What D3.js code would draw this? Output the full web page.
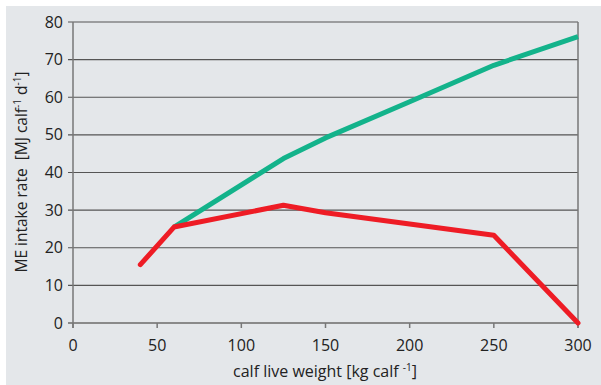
<!DOCTYPE html>
<html>
<head>
<meta charset="utf-8">
<script src="https://cdn.jsdelivr.net/npm/d3@7"></script>
<style>
  body { margin: 0; background: #fff; }
  svg { display: block; font-family: "Open Sans", "Noto Sans", sans-serif; }
</style>
</head>
<body>
<div id="chart"></div>
<script>
// calf live weight (kg)
const greenWeight = [60, 125, 150, 200, 250, 300];
const greenME = [25.5, 43.7, 49.2, 58.8, 68.5, 76.1];
const redWeight = [40, 60, 125, 150, 250, 300];
const redME = [15.5, 25.5, 31.3, 29.3, 23.3, 0];
const xTicks = [0, 50, 100, 150, 200, 250, 300];
const yTicks = [0, 10, 20, 30, 40, 50, 60, 70, 80];

const width = 601, height = 385;
const margin = {left: 73, right: 23, top: 22, bottom: 62};

const svg = d3.select('#chart').append('svg')
    .attr('width', width)
    .attr('height', height);

svg.append('rect')
    .attr('x', 6).attr('y', 6)
    .attr('width', width - 6).attr('height', height - 6)
    .attr('fill', '#e4e7ea');

const x = d3.scaleLinear().domain([0, 300]).range([margin.left, width - margin.right]);
const y = d3.scaleLinear().domain([0, 80]).range([height - margin.bottom, margin.top]);

// horizontal grid
svg.append('g')
    .selectAll('line')
    .data(yTicks)
    .join('line')
    .attr('x1', x(0) - 5)
    .attr('x2', x(300))
    .attr('y1', d => y(d))
    .attr('y2', d => y(d))
    .attr('stroke', d => d === 0 ? '#8a8a8a' : '#555')
    .attr('stroke-width', d => d === 0 ? 2 : 1.2);

// left and right frame
svg.append('line')
    .attr('x1', x(0)).attr('x2', x(0))
    .attr('y1', y(80)).attr('y2', y(0) + 5)
    .attr('stroke', '#777').attr('stroke-width', 1.5);
svg.append('line')
    .attr('x1', x(300)).attr('x2', x(300))
    .attr('y1', y(80)).attr('y2', y(0) + 5)
    .attr('stroke', '#777').attr('stroke-width', 1.5);

// x ticks
svg.append('g')
    .selectAll('line')
    .data(xTicks)
    .join('line')
    .attr('x1', d => x(d)).attr('x2', d => x(d))
    .attr('y1', y(0)).attr('y2', y(0) + 5)
    .attr('stroke', '#777').attr('stroke-width', 1.5);

svg.append('g')
    .attr('font-size', 16)
    .attr('fill', '#222')
    .selectAll('text')
    .data(xTicks)
    .join('text')
    .attr('x', d => x(d))
    .attr('y', y(0) + 28)
    .attr('text-anchor', 'middle')
    .text(d => d);

svg.append('g')
    .attr('font-size', 16)
    .attr('fill', '#222')
    .selectAll('text')
    .data(yTicks)
    .join('text')
    .attr('x', x(0) - 10)
    .attr('y', d => y(d))
    .attr('dy', '0.35em')
    .attr('text-anchor', 'end')
    .text(d => d);

// axis titles
svg.append('text')
    .attr('x', 325).attr('y', 377)
    .attr('text-anchor', 'middle')
    .attr('font-size', 16)
    .attr('fill', '#222')
    .html('calf live weight [kg calf <tspan font-size="10" dy="-6">-1</tspan><tspan dy="6">]</tspan>');

svg.append('text')
    .attr('transform', 'translate(27,172) rotate(-90)')
    .attr('text-anchor', 'middle')
    .attr('font-size', 15.5)
    .attr('fill', '#222')
    .html('ME intake rate&#160;&#160;[MJ calf<tspan font-size="10" dy="-6">-1</tspan><tspan dy="6"> d</tspan><tspan font-size="10" dy="-6">-1</tspan><tspan dy="6">]</tspan>');

const line = d3.line()
    .x(d => x(d[0]))
    .y(d => y(d[1]));

svg.append('path')
    .datum(d3.zip(greenWeight, greenME))
    .attr('d', line)
    .attr('fill', 'none')
    .attr('stroke', '#13b38b')
    .attr('stroke-width', 5)
    .attr('stroke-linejoin', 'round');

svg.append('path')
    .datum(d3.zip(redWeight, redME))
    .attr('d', line)
    .attr('fill', 'none')
    .attr('stroke', '#ee1c25')
    .attr('stroke-width', 5)
    .attr('stroke-linejoin', 'round')
    .attr('stroke-linecap', 'round');
</script>
</body>
</html>
